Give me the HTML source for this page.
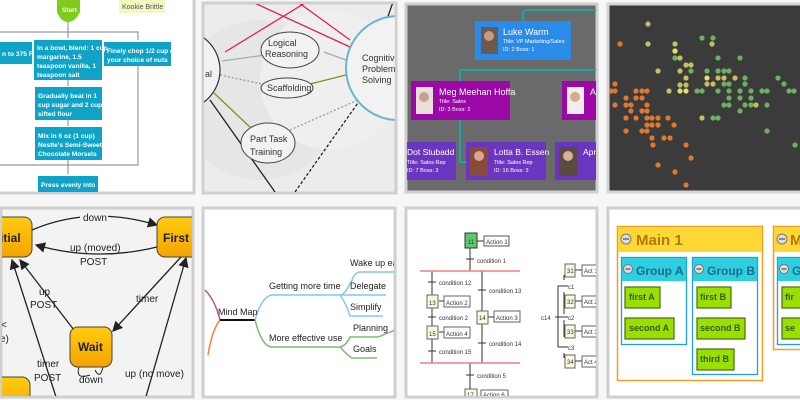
<!DOCTYPE html>
<html><head><meta charset="utf-8"><style>
body{margin:0;background:#f7f7f7;}
svg{display:block;font-family:"Liberation Sans",sans-serif;}
</style></head><body>
<svg width="800" height="400" viewBox="0 0 800 400" xmlns="http://www.w3.org/2000/svg">
<defs>
<clipPath id="c1"><rect x="0" y="0" width="193" height="192"/></clipPath>
<clipPath id="c2"><rect x="204" y="4" width="191" height="188"/></clipPath>
<clipPath id="c3"><rect x="407" y="5" width="189" height="186"/></clipPath>
<clipPath id="c4"><rect x="609" y="5" width="191" height="186"/></clipPath>
<clipPath id="c5"><rect x="2" y="209" width="190" height="187"/></clipPath>
<clipPath id="c6"><rect x="204" y="209" width="190" height="187"/></clipPath>
<clipPath id="c7"><rect x="407" y="209" width="189" height="187"/></clipPath>
<clipPath id="c8"><rect x="609" y="209" width="191" height="187"/></clipPath>
<linearGradient id="og" x1="0" y1="0" x2="0" y2="1"><stop offset="0" stop-color="#ffcc10"/><stop offset="1" stop-color="#f5a300"/></linearGradient>
<marker id="ar" markerWidth="8" markerHeight="8" refX="7" refY="4" orient="auto"><path d="M0,0 L8,4 L0,8 z" fill="#222"/></marker>
</defs>

<rect x="-2" y="-2" width="196" height="195" fill="#fff" stroke="#cfcfcf" stroke-width="3"/>
<rect x="203" y="3" width="193" height="190" fill="#ececec" stroke="#cfcfcf" stroke-width="3"/>
<rect x="406" y="4" width="191" height="188" fill="#6a6a6a" stroke="#cfcfcf" stroke-width="3"/>
<rect x="608" y="4" width="194" height="188" fill="#3b3b3b" stroke="#d5d5d5" stroke-width="3"/>
<rect x="1" y="208" width="192" height="189" fill="#f3f3f3" stroke="#cfcfcf" stroke-width="3"/>
<rect x="203" y="208" width="192" height="189" fill="#fff" stroke="#cfcfcf" stroke-width="3"/>
<rect x="406" y="208" width="191" height="189" fill="#fff" stroke="#cfcfcf" stroke-width="3"/>
<rect x="608" y="208" width="194" height="189" fill="#fff" stroke="#cfcfcf" stroke-width="3"/>

<!-- tile1 flowchart -->
<g clip-path="url(#c1)" font-size="6.6" font-weight="bold" fill="#fff">
<path d="M57,0 H80 V12 Q75,22 68,22 Q61,22 57,12 Z" fill="#7dcc1a"/>
<text x="62" y="12" font-size="6.5">Start</text>
<rect x="119" y="0" width="46" height="13" fill="#f3f7c0"/>
<text x="122" y="9" fill="#555" font-weight="normal" font-size="7">Kookie Brittle</text>
<g stroke="#999" fill="none" stroke-width="1.2">
<path d="M68,22 V38 M0,32 H138 V40 M68,80 V86 M68,120 V126 M68,160 V174 M138,66 V165 H0"/>
</g>
<rect x="0" y="42" width="32" height="22" fill="#0fa3c8"/>
<rect x="34" y="40" width="68" height="40" fill="#0fa3c8"/>
<rect x="104" y="42" width="67" height="24" fill="#0fa3c8"/>
<rect x="35" y="87" width="67" height="33" fill="#0fa3c8"/>
<rect x="35" y="127" width="67" height="33" fill="#0fa3c8"/>
<rect x="38" y="176" width="60" height="20" fill="#0fa3c8"/>
<text x="2" y="56">n to 375 F</text>
<text x="37" y="50">In a bowl, blend: 1 cup</text>
<text x="37" y="59">margarine, 1.5</text>
<text x="37" y="68">teaspoon vanilla, 1</text>
<text x="37" y="77">teaspoon salt</text>
<text x="107" y="53">Finely chop 1/2 cup of</text>
<text x="107" y="62">your choice of nuts</text>
<text x="38" y="98">Gradually beat in 1</text>
<text x="38" y="107">cup sugar and 2 cups</text>
<text x="38" y="116">sifted flour</text>
<text x="38" y="138">Mix in 6 oz (1 cup)</text>
<text x="38" y="147">Nestle's Semi-Sweet</text>
<text x="38" y="156">Chocolate Morsels</text>
<text x="41" y="187">Press evenly into</text>
</g>

<!-- tile2 concept map -->
<g clip-path="url(#c2)">
<circle cx="260" cy="100" r="80" fill="#e6e6e6"/><circle cx="330" cy="80" r="70" fill="#efefef"/>
<g stroke-width="1.3" fill="none">
<path d="M225,52 L305,3 M248,0 L350,47 M295,0 L350,40" stroke="#e0224a"/>
<path d="M214,93 L253,130 M310,84 L346,75" stroke="#8a8a20"/>
<path d="M222,61 L265,55 M324,52 L346,60" stroke="#aaa"/>
<path d="M220,75 L267,85 M290,130 L358,100" stroke="#999" stroke-dasharray="2,2"/>
<path d="M295,192 L360,100" stroke="#222" stroke-dasharray="3,2"/>
<path d="M210,100 L275,192 M385,25 L393,2" stroke="#222"/>
</g>
<circle cx="180" cy="70" r="40" fill="#f2f2f2" stroke="#333" stroke-width="1.2"/>
<circle cx="398" cy="68" r="52" fill="#f2f2f2" stroke="#6ab4d0" stroke-width="2"/>
<ellipse cx="290" cy="50" rx="29" ry="18" fill="#f2f2f2" stroke="#444"/>
<ellipse cx="287" cy="88" rx="26" ry="10" fill="#f2f2f2" stroke="#444"/>
<ellipse cx="268" cy="143" rx="27" ry="20" fill="#f2f2f2" stroke="#444"/>
<g font-size="9" fill="#333">
<text x="205" y="77">al</text>
<text x="268" y="46">Logical</text><text x="265" y="57">Reasoning</text>
<text x="267" y="91">Scaffolding</text>
<text x="250" y="142">Part Task</text><text x="250" y="155">Training</text>
<text x="362" y="61">Cognitive</text><text x="362" y="72">Problem</text><text x="362" y="83">Solving</text>
</g>
</g>

<!-- tile3 org chart -->
<g clip-path="url(#c3)">
<g stroke="#16a8a8" stroke-width="2" fill="none">
<path d="M523,60 V14 Q523,10 527,10 H600 M460,81 V70 H600 M460,120 V162 H468"/>
</g>
<rect x="475" y="21" width="96" height="39" fill="#2a8ce8"/>
<rect x="481" y="27" width="17" height="27" fill="#6b5a50"/><circle cx="489" cy="36" r="5" fill="#c99a7e"/>
<rect x="411" y="81" width="99" height="39" fill="#9c07a8"/>
<rect x="416" y="87" width="17" height="27" fill="#e8e0d8"/><circle cx="424" cy="97" r="5" fill="#c9a08a"/>
<rect x="562" y="81" width="40" height="39" fill="#9c07a8"/>
<rect x="567" y="87" width="17" height="27" fill="#eee"/><circle cx="575" cy="97" r="5" fill="#d8aa8a"/>
<rect x="405" y="142" width="51" height="38" fill="#6a36c0"/>
<rect x="466" y="142" width="80" height="38" fill="#6a36c0"/>
<rect x="470" y="147" width="18" height="29" fill="#8a4a3a"/><circle cx="479" cy="156" r="5" fill="#d8a890"/>
<rect x="555" y="142" width="45" height="38" fill="#6a36c0"/>
<rect x="559" y="147" width="18" height="29" fill="#5a4a40"/><circle cx="568" cy="156" r="5" fill="#d8b098"/>
<g fill="#fff">
<text x="503" y="35" font-size="9">Luke Warm</text>
<text x="503" y="43" font-size="5.5">Title: VP Marketing/Sales</text>
<text x="503" y="51" font-size="5.5">ID: 2 Boss: 1</text>
<text x="439" y="95" font-size="9">Meg Meehan Hoffa</text>
<text x="439" y="103" font-size="5.5">Title: Sales</text>
<text x="439" y="111" font-size="5.5">ID: 3 Boss: 2</text>
<text x="590" y="95" font-size="9">A</text>
<text x="407" y="155" font-size="8.5">Dot Stubadd</text>
<text x="407" y="164" font-size="5.5">Title: Sales Rep</text>
<text x="407" y="172" font-size="5.5">ID: 7 Boss: 3</text>
<text x="494" y="155" font-size="8.5">Lotta B. Essen</text>
<text x="494" y="164" font-size="5.5">Title: Sales Rep</text>
<text x="494" y="172" font-size="5.5">ID: 16 Boss: 3</text>
<text x="583" y="155" font-size="8.5">Apr</text>
</g>
</g>

<!-- tile4 scatter -->
<g clip-path="url(#c4)">
<g fill="#e07830">
<circle cx="620" cy="44" r="2.6"/><circle cx="615" cy="84" r="2.6"/><circle cx="611" cy="91" r="2.6"/><circle cx="615" cy="91" r="2.6"/><circle cx="615" cy="105" r="2.6"/>
<circle cx="636" cy="91" r="2.6"/><circle cx="642" cy="91" r="2.6"/><circle cx="647" cy="91" r="2.6"/><circle cx="636" cy="98" r="2.6"/><circle cx="642" cy="98" r="2.6"/>
<circle cx="626" cy="98" r="2.6"/><circle cx="626" cy="105" r="2.6"/><circle cx="631" cy="105" r="2.6"/><circle cx="647" cy="105" r="2.6"/><circle cx="647" cy="111" r="2.6"/>
<circle cx="626" cy="118" r="2.6"/><circle cx="636" cy="118" r="2.6"/><circle cx="647" cy="118" r="2.6"/><circle cx="652" cy="118" r="2.6"/><circle cx="658" cy="118" r="2.6"/>
<circle cx="647" cy="125" r="2.6"/><circle cx="652" cy="125" r="2.6"/><circle cx="658" cy="125" r="2.6"/><circle cx="668" cy="118" r="2.6"/><circle cx="674" cy="125" r="2.6"/>
<circle cx="626" cy="131" r="2.6"/><circle cx="642" cy="131" r="2.6"/><circle cx="647" cy="131" r="2.6"/><circle cx="652" cy="138" r="2.6"/><circle cx="664" cy="138" r="2.6"/>
<circle cx="670" cy="138" r="2.6"/><circle cx="653" cy="145" r="2.6"/><circle cx="686" cy="145" r="2.6"/><circle cx="691" cy="158" r="2.6"/><circle cx="658" cy="165" r="2.6"/>
<circle cx="675" cy="172" r="2.6"/><circle cx="686" cy="185" r="2.6"/><circle cx="631" cy="111" r="2.6"/><circle cx="642" cy="111" r="2.6"/>
</g>
<g fill="#c8c060">
<circle cx="648" cy="24" r="2.6"/><circle cx="648" cy="44" r="2.6"/><circle cx="675" cy="44" r="2.6"/><circle cx="675" cy="51" r="2.6"/><circle cx="675" cy="58" r="2.6"/>
<circle cx="680" cy="58" r="2.6"/><circle cx="686" cy="65" r="2.6"/><circle cx="691" cy="65" r="2.6"/><circle cx="658" cy="71" r="2.6"/><circle cx="680" cy="71" r="2.6"/>
<circle cx="686" cy="78" r="2.6"/><circle cx="680" cy="85" r="2.6"/><circle cx="686" cy="85" r="2.6"/><circle cx="707" cy="84" r="2.6"/><circle cx="713" cy="84" r="2.6"/>
<circle cx="718" cy="78" r="2.6"/><circle cx="724" cy="78" r="2.6"/><circle cx="712" cy="44" r="2.6"/><circle cx="702" cy="118" r="2.6"/><circle cx="669" cy="91" r="2.6"/>
<circle cx="735" cy="78" r="2.6"/><circle cx="756" cy="105" r="2.6"/>
</g>
<g fill="#e0e070"><circle cx="675" cy="51" r="2.6"/><circle cx="707" cy="78" r="2.6"/><circle cx="680" cy="91" r="2.6"/><circle cx="686" cy="91" r="2.6"/></g>
<g fill="#6cb060">
<circle cx="702" cy="38" r="2.6"/><circle cx="713" cy="38" r="2.6"/><circle cx="675" cy="58" r="2.6"/><circle cx="718" cy="58" r="2.6"/><circle cx="740" cy="58" r="2.6"/>
<circle cx="691" cy="71" r="2.6"/><circle cx="707" cy="71" r="2.6"/><circle cx="718" cy="71" r="2.6"/><circle cx="724" cy="71" r="2.6"/><circle cx="729" cy="71" r="2.6"/>
<circle cx="724" cy="84" r="2.6"/><circle cx="729" cy="84" r="2.6"/><circle cx="745" cy="84" r="2.6"/><circle cx="697" cy="91" r="2.6"/><circle cx="702" cy="91" r="2.6"/>
<circle cx="718" cy="91" r="2.6"/><circle cx="729" cy="91" r="2.6"/><circle cx="740" cy="91" r="2.6"/><circle cx="751" cy="91" r="2.6"/><circle cx="762" cy="91" r="2.6"/>
<circle cx="767" cy="91" r="2.6"/><circle cx="789" cy="91" r="2.6"/><circle cx="794" cy="91" r="2.6"/><circle cx="778" cy="78" r="2.6"/><circle cx="784" cy="84" r="2.6"/>
<circle cx="740" cy="98" r="2.6"/><circle cx="751" cy="98" r="2.6"/><circle cx="724" cy="105" r="2.6"/><circle cx="729" cy="105" r="2.6"/><circle cx="745" cy="105" r="2.6"/>
<circle cx="751" cy="105" r="2.6"/><circle cx="767" cy="105" r="2.6"/><circle cx="740" cy="111" r="2.6"/><circle cx="713" cy="118" r="2.6"/><circle cx="718" cy="118" r="2.6"/>
<circle cx="767" cy="131" r="2.6"/><circle cx="795" cy="145" r="2.6"/><circle cx="745" cy="78" r="2.6"/><circle cx="729" cy="98" r="2.6"/>
</g>
</g>

<!-- tile5 state machine -->
<g clip-path="url(#c5)">
<g stroke="#222" stroke-width="1.3" fill="none" marker-end="url(#ar)">
<path d="M32,230 Q90,205 157,225"/>
<path d="M157,247 Q95,262 36,245"/>
<path d="M181,257 L113,331"/>
<path d="M74,330 L20,260"/>
<path d="M57,400 L12,260"/>
<path d="M145,400 L186,258"/>
</g>
<path d="M79,367 Q75,380 90,375 M95,370 Q100,380 103,367" stroke="#222" fill="none"/>
<rect x="-12" y="217" width="44" height="40" rx="8" fill="url(#og)" stroke="#444"/>
<rect x="157" y="217" width="44" height="40" rx="8" fill="url(#og)" stroke="#444"/>
<rect x="70" y="327" width="42" height="40" rx="8" fill="url(#og)" stroke="#444"/>
<rect x="-12" y="377" width="42" height="40" rx="8" fill="url(#og)" stroke="#444"/>
<g font-weight="bold" font-size="12" fill="#222">
<text x="0" y="242">itial</text><text x="163" y="242">First</text><text x="78" y="351">Wait</text>
</g>
<g font-size="10" fill="#222">
<rect x="80" y="212" width="28" height="10" fill="#f3f3f3"/>
<text x="83" y="221">down</text>
<text x="70" y="251">up (moved)</text><text x="80" y="265">POST</text>
<text x="39" y="295">up</text><text x="30" y="308">POST</text>
<text x="136" y="302">timer</text>
<text x="1" y="328">&lt;</text><text x="0" y="342">e)</text>
<text x="37" y="367">timer</text><text x="34" y="381">POST</text>
<text x="79" y="383">down</text>
<text x="125" y="377">up (no move)</text>
</g>
</g>

<!-- tile6 mind map -->
<g clip-path="url(#c6)" fill="none" stroke-width="1.5">
<path d="M205,290 Q215,300 220,320" stroke="#c05090"/>
<path d="M220,320 Q212,330 208,355" stroke="#f08040"/>
<path d="M220,320 H255" stroke="#111" stroke-width="2"/>
<path d="M255,320 Q262,296 272,295 H340 Q345,295 352,280 Q355,272 360,272 H400 M340,295 H386 M340,295 Q347,305 350,316 H383" stroke="#80c8e8"/>
<path d="M255,320 Q262,347 272,347 H340 Q347,345 350,337 H378 M340,347 Q347,355 352,358 H377 M378,337 Q388,333 395,330" stroke="#80b878"/>
<g stroke="none" fill="#222" font-size="9">
<text x="218" y="315">Mind Map</text>
<text x="269" y="289">Getting more time</text>
<text x="269" y="341">More effective use</text>
<text x="350" y="266">Wake up ea</text>
<text x="350" y="289">Delegate</text>
<text x="350" y="310">Simplify</text>
<text x="353" y="331">Planning</text>
<text x="353" y="352">Goals</text>
</g>
</g>

<!-- tile7 SFC -->
<g clip-path="url(#c7)" font-size="6" fill="#333">
<g stroke="#333" fill="none">
<path d="M470,248 V271 M466,259 H474 M432,271 V363 M482,271 V363 M428,282 H436 M428,317 H436 M428,351 H436 M478,290 H486 M478,343 H486 M470,363 V395 M466,375 H474 M564,275 V280 M561,286 H568 M564,292 V314 M561,317 H568 M564,320 V337 M561,347 H568 M564,353 V358 M564,286 H558 V347 H564 M555,317 H562"/>
<path d="M476,241 H484 M439,301 H444 M439,332 H444 M488,317 H494 M570,270 H582 M570,301 H582 M570,331 H582 M570,361 H582"/>
</g>
<path d="M420,271 H520 M420,363 H520" stroke="#f08080" stroke-width="1.5"/>
<rect x="465" y="233" width="12" height="15" fill="#5cc870" stroke="#333"/>
<rect x="484" y="236" width="25" height="10" fill="#fff" stroke="#555"/>
<g fill="#fbf8e0" stroke="#666">
<rect x="427" y="295" width="11" height="13"/><rect x="427" y="326" width="11" height="13"/><rect x="477" y="311" width="11" height="13"/>
<rect x="565" y="264" width="10" height="13"/><rect x="565" y="295" width="10" height="13"/><rect x="565" y="325" width="10" height="13"/><rect x="565" y="355" width="10" height="13"/>
<rect x="465" y="389" width="12" height="10"/>
</g>
<g fill="#fff" stroke="#666">
<rect x="444" y="296" width="26" height="11"/><rect x="444" y="327" width="26" height="11"/><rect x="494" y="311" width="26" height="11"/>
<rect x="582" y="265" width="20" height="11"/><rect x="582" y="296" width="20" height="11"/><rect x="582" y="326" width="20" height="11"/><rect x="582" y="356" width="20" height="11"/>
<rect x="481" y="390" width="27" height="10"/>
</g>
<text x="468" y="244">11</text><text x="486" y="244">Action 1</text>
<text x="477" y="263">condition 1</text>
<text x="439" y="285">condition 12</text><text x="489" y="293">condition 13</text>
<text x="429" y="305">13</text><text x="446" y="305">Action 2</text>
<text x="439" y="320">condition 2</text>
<text x="479" y="320">14</text><text x="496" y="320">Action 3</text>
<text x="429" y="336">15</text><text x="446" y="336">Action 4</text>
<text x="489" y="346">condition 14</text><text x="439" y="354">condition 15</text>
<text x="477" y="378">condition 5</text>
<text x="467" y="397">17</text><text x="483" y="397">Action 6</text>
<text x="567" y="273">31</text><text x="584" y="273">Act 1</text>
<text x="567" y="304">32</text><text x="584" y="304">Act 2</text>
<text x="567" y="334">33</text><text x="584" y="334">Act 3</text>
<text x="567" y="364">34</text><text x="584" y="364">Act 4</text>
<text x="568" y="289">c1</text><text x="568" y="320">c2</text><text x="568" y="350">c3</text>
<text x="541" y="320">c14</text>
</g>

<!-- tile8 groups -->
<g clip-path="url(#c8)">
<rect x="617.5" y="226.5" width="145" height="154" fill="#fff" stroke="#f0a020" stroke-width="1.5"/>
<rect x="618" y="227" width="144" height="25" fill="#fdd835"/>
<rect x="773.5" y="226.5" width="40" height="123" fill="#fff" stroke="#f0a020" stroke-width="1.5"/>
<rect x="774" y="227" width="40" height="25" fill="#fdd835"/>
<g fill="#fff" stroke="#20a0d8" stroke-width="1.3">
<rect x="621.5" y="257.5" width="65" height="87"/><rect x="692.5" y="257.5" width="65" height="117"/><rect x="777.5" y="257.5" width="30" height="87"/>
</g>
<g fill="#2ed0e0"><rect x="622" y="258" width="64" height="23"/><rect x="693" y="258" width="64" height="23"/><rect x="778" y="258" width="30" height="23"/></g>
<g fill="#99e000" stroke="#4a6a10" stroke-width="1.2">
<rect x="625" y="287" width="35" height="21"/><rect x="625" y="318" width="49" height="21"/>
<rect x="697" y="287" width="34" height="21"/><rect x="697" y="318" width="48" height="21"/><rect x="697" y="349" width="37" height="21"/>
<rect x="782" y="287" width="25" height="21"/><rect x="782" y="318" width="25" height="21"/>
</g>
<g fill="#ddd" stroke="#777"><circle cx="626" cy="239" r="5"/><circle cx="628" cy="269" r="4.5"/><circle cx="699" cy="269" r="4.5"/><circle cx="782" cy="239" r="5"/><circle cx="784" cy="269" r="4.5"/></g>
<g stroke="#333"><path d="M623,239 H629 M625.5,269 H630.5 M696.5,269 H701.5 M779,239 H785 M781.5,269 H786.5"/></g>
<g font-weight="bold">
<text x="636" y="245" font-size="15" fill="#b07a10">Main 1</text>
<text x="790" y="245" font-size="15" fill="#b07a10">M</text>
<text x="636" y="275" font-size="12" fill="#1a6a8a">Group A</text>
<text x="707" y="275" font-size="12" fill="#1a6a8a">Group B</text>
<text x="792" y="275" font-size="12" fill="#1a6a8a">G</text>
<g font-size="9" fill="#3a5a10">
<text x="629" y="300">first A</text><text x="629" y="331">second A</text>
<text x="700" y="300">first B</text><text x="700" y="331">second B</text><text x="700" y="362">third B</text>
<text x="785" y="300">fir</text><text x="785" y="331">se</text>
</g>
</g>
</g>
</svg>
</body></html>
